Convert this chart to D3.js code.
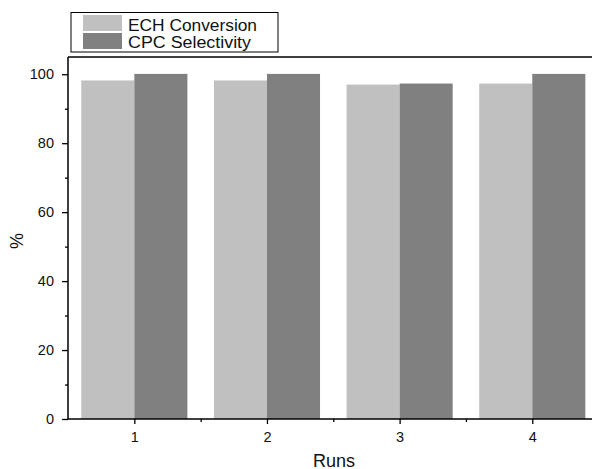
<!DOCTYPE html>
<html>
<head>
<meta charset="utf-8">
<script src="https://cdn.jsdelivr.net/npm/d3@7"></script>
<style>
  body { margin: 0; background: #fff; }
  svg { display: block; font-family: Arial, "Liberation Sans", sans-serif; }
</style>
</head>
<body>
<svg id="chart" width="592" height="469"></svg>
<script>
let runs = [1, 2, 3, 4];
let echConversion = [98.2, 98.2, 97.0, 97.3];
let cpcSelectivity = [100.1, 100.1, 97.3, 100.1];
let seriesNames = ['ECH Conversion', 'CPC Selectivity'];
let seriesColors = ['#c0c0c0', '#808080'];
let yTicks = [0, 20, 40, 60, 80, 100];

let svg = d3.select('#chart');

let plotLeft = 68, plotTop = 57, plotBottom = 419;

let x = d3.scaleLinear().domain([0.5, 4.5]).range([plotLeft, 598.6]);
let y = d3.scaleLinear().domain([0, 105]).range([plotBottom, plotTop]);

let groupWidth = (x(2) - x(1)) * 0.8;
let barWidth = groupWidth / 2;

// bars
let series = [echConversion, cpcSelectivity];
series.forEach((vals, si) => {
  svg.append('g').selectAll('rect')
    .data(runs)
    .enter()
    .append('rect')
    .attr('x', (d) => x(d) - groupWidth / 2 + si * barWidth)
    .attr('y', (d, i) => y(vals[i]))
    .attr('width', barWidth)
    .attr('height', (d, i) => y(0) - y(vals[i]))
    .attr('fill', seriesColors[si]);
});

// top frame line
svg.append('line')
  .attr('x1', plotLeft).attr('x2', 592)
  .attr('y1', plotTop).attr('y2', plotTop)
  .attr('stroke', '#000').attr('stroke-width', 1.5);

// bottom axis
let xAxis = svg.append('g')
  .attr('transform', `translate(0,${plotBottom})`)
  .call(d3.axisBottom(x).tickValues(runs).tickFormat(d3.format('d')).tickSize(5).tickPadding(8));
svg.append('g')
  .attr('transform', `translate(0,${plotBottom})`)
  .call(d3.axisBottom(x).tickValues([1.5, 2.5, 3.5]).tickFormat('').tickSize(3))
  .select('.domain').remove();

// left axis
let yAxis = svg.append('g')
  .attr('transform', `translate(${plotLeft},0)`)
  .call(d3.axisLeft(y).tickValues(yTicks).tickSize(6).tickPadding(8));
svg.append('g')
  .attr('transform', `translate(${plotLeft},0)`)
  .call(d3.axisLeft(y).tickValues([10, 30, 50, 70, 90]).tickFormat('').tickSize(3))
  .select('.domain').remove();

xAxis.select('.domain').attr('d', `M${plotLeft},0H592`).attr('stroke-width', 1.5);
yAxis.select('.domain').attr('d', `M0,${plotTop}V${plotBottom}`).attr('stroke-width', 1.5);

svg.selectAll('.tick line').attr('stroke-width', 1.3);
svg.selectAll('.tick text').attr('font-size', 14.5).attr('fill', '#111');

// axis titles
svg.append('text')
  .attr('x', 334).attr('y', 466.5)
  .attr('text-anchor', 'middle')
  .attr('font-size', 18)
  .attr('fill', '#111')
  .text('Runs');

svg.append('text')
  .attr('transform', 'translate(22.5,241) rotate(-90)')
  .attr('text-anchor', 'middle')
  .attr('font-size', 18)
  .attr('fill', '#111')
  .text('%');

// legend
let legendWidths = [129, 123];
let legend = svg.append('g');
legend.append('rect')
  .attr('x', 71).attr('y', 12.5)
  .attr('width', 207).attr('height', 39.5)
  .attr('fill', '#fff').attr('stroke', '#000').attr('stroke-width', 1);
seriesNames.forEach((name, i) => {
  legend.append('rect')
    .attr('x', 83).attr('y', 15 + i * 18)
    .attr('width', 39).attr('height', 16)
    .attr('fill', seriesColors[i]);
  legend.append('text')
    .attr('x', 128).attr('y', 31 + i * 17)
    .attr('font-size', 16)
    .attr('textLength', legendWidths[i])
    .attr('lengthAdjust', 'spacingAndGlyphs')
    .attr('fill', '#111')
    .text(name);
});
</script>
</body>
</html>
